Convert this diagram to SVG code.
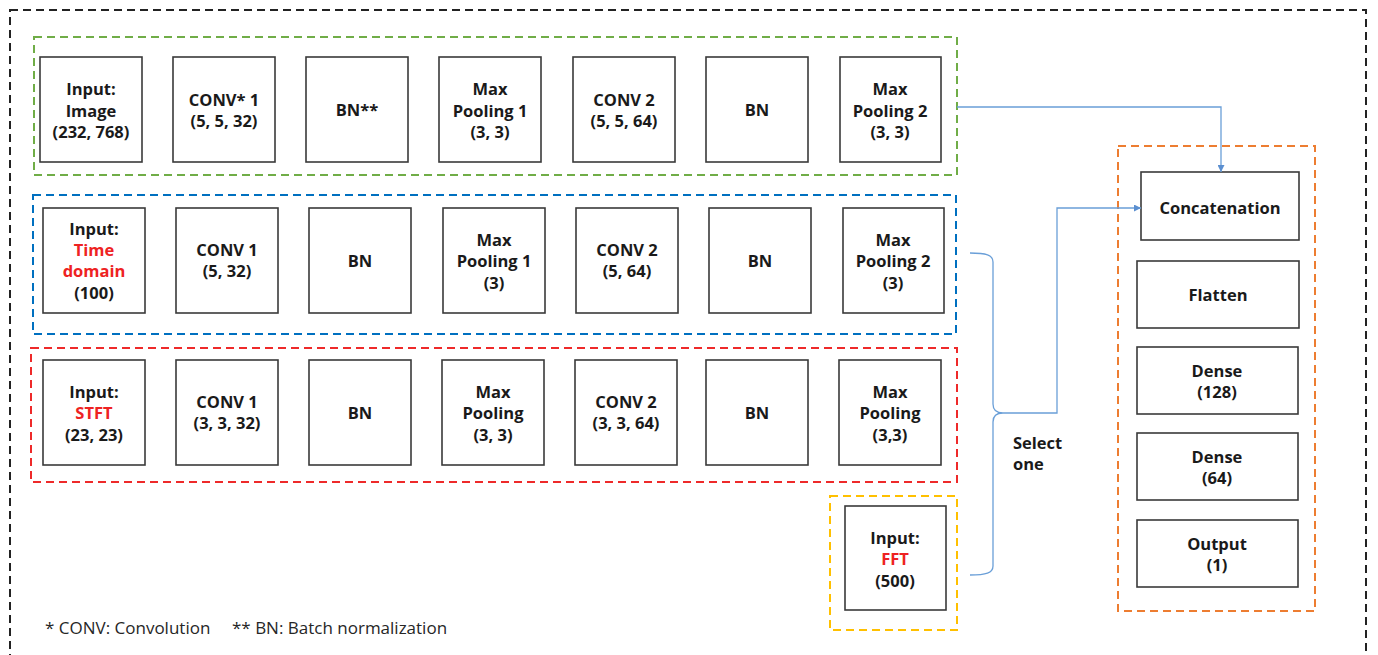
<svg xmlns="http://www.w3.org/2000/svg" width="1378" height="655" viewBox="0 0 1378 655">
  <style>
    .box { fill: #fff; stroke: #3a3a3a; stroke-width: 1.6; }
    .grp { fill: none; stroke-width: 2; stroke-dasharray: 8 5; }
    .t { font-family: "Open Sans", "Noto Sans", sans-serif; font-weight: bold; font-size: 16.5px; fill: #1a1a1a; text-anchor: middle; }
    .red { fill: #ee2222; }
    .note { font-family: "Open Sans", "Noto Sans", sans-serif; font-size: 17px; fill: #262626; }
    .link { fill: none; stroke: #6a9fd8; stroke-width: 1.3; }
  </style>
  <defs>
    <marker id="arr" viewBox="0 0 10 10" refX="10" refY="5" markerWidth="7" markerHeight="7" markerUnits="userSpaceOnUse" orient="auto">
      <path d="M0,0 L10,5 L0,10 z" fill="#5b8fd0"/>
    </marker>
  </defs>
  <rect width="1378" height="655" fill="#fff"/>

  <!-- outer frame and branch groups -->
  <g id="frames">
    <rect x="10" y="10" width="1356" height="660" class="grp" stroke="#222"/>
    <rect x="34" y="37" width="923" height="138" class="grp" stroke="#70ad47"/>
    <rect x="33" y="195" width="923" height="139" class="grp" stroke="#0070c0"/>
    <rect x="31" y="348" width="926" height="134" class="grp" stroke="#ee2a2a"/>
    <rect x="830" y="496" width="127" height="134" class="grp" stroke="#ffc000"/>
    <rect x="1118" y="146" width="197" height="465" class="grp" stroke="#ed7d31"/>
  </g>

  <!-- image branch -->
  <g id="img-input"><rect x="40" y="57" width="102" height="105" class="box"/>
    <text class="t" x="91" y="95">Input:</text><text class="t" x="91" y="117">Image</text><text class="t" x="91" y="138">(232, 768)</text></g>
  <g id="img-conv1"><rect x="173" y="57" width="102" height="105" class="box"/>
    <text class="t" x="224" y="106">CONV* 1</text><text class="t" x="224" y="127">(5, 5, 32)</text></g>
  <g id="img-bn1"><rect x="306" y="57" width="102" height="105" class="box"/>
    <text class="t" x="357" y="116">BN**</text></g>
  <g id="img-pool1"><rect x="439" y="57" width="102" height="105" class="box"/>
    <text class="t" x="490" y="95">Max</text><text class="t" x="490" y="117">Pooling 1</text><text class="t" x="490" y="138">(3, 3)</text></g>
  <g id="img-conv2"><rect x="573" y="57" width="102" height="105" class="box"/>
    <text class="t" x="624" y="106">CONV 2</text><text class="t" x="624" y="127">(5, 5, 64)</text></g>
  <g id="img-bn2"><rect x="706" y="57" width="102" height="105" class="box"/>
    <text class="t" x="757" y="116">BN</text></g>
  <g id="img-pool2"><rect x="840" y="57" width="101" height="105" class="box"/>
    <text class="t" x="890" y="95">Max</text><text class="t" x="890" y="117">Pooling 2</text><text class="t" x="890" y="138">(3, 3)</text></g>

  <!-- time-domain branch -->
  <g id="td-input"><rect x="43" y="208" width="102" height="105" class="box"/>
    <text class="t" x="94" y="235">Input:</text><text class="t red" x="94" y="256">Time</text><text class="t red" x="94" y="277">domain</text><text class="t" x="94" y="299">(100)</text></g>
  <g id="td-conv1"><rect x="176" y="208" width="102" height="105" class="box"/>
    <text class="t" x="227" y="256">CONV 1</text><text class="t" x="227" y="277">(5, 32)</text></g>
  <g id="td-bn1"><rect x="309" y="208" width="102" height="105" class="box"/>
    <text class="t" x="360" y="267">BN</text></g>
  <g id="td-pool1"><rect x="443" y="208" width="102" height="105" class="box"/>
    <text class="t" x="494" y="246">Max</text><text class="t" x="494" y="267">Pooling 1</text><text class="t" x="494" y="289">(3)</text></g>
  <g id="td-conv2"><rect x="576" y="208" width="102" height="105" class="box"/>
    <text class="t" x="627" y="256">CONV 2</text><text class="t" x="627" y="277">(5, 64)</text></g>
  <g id="td-bn2"><rect x="709" y="208" width="102" height="105" class="box"/>
    <text class="t" x="760" y="267">BN</text></g>
  <g id="td-pool2"><rect x="843" y="208" width="101" height="105" class="box"/>
    <text class="t" x="893" y="246">Max</text><text class="t" x="893" y="267">Pooling 2</text><text class="t" x="893" y="289">(3)</text></g>

  <!-- STFT branch -->
  <g id="stft-input"><rect x="43" y="360" width="102" height="105" class="box"/>
    <text class="t" x="94" y="398">Input:</text><text class="t red" x="94" y="419">STFT</text><text class="t" x="94" y="441">(23, 23)</text></g>
  <g id="stft-conv1"><rect x="176" y="360" width="102" height="105" class="box"/>
    <text class="t" x="227" y="408">CONV 1</text><text class="t" x="227" y="429">(3, 3, 32)</text></g>
  <g id="stft-bn1"><rect x="309" y="360" width="102" height="105" class="box"/>
    <text class="t" x="360" y="419">BN</text></g>
  <g id="stft-pool1"><rect x="442" y="360" width="102" height="105" class="box"/>
    <text class="t" x="493" y="398">Max</text><text class="t" x="493" y="419">Pooling</text><text class="t" x="493" y="441">(3, 3)</text></g>
  <g id="stft-conv2"><rect x="575" y="360" width="102" height="105" class="box"/>
    <text class="t" x="626" y="408">CONV 2</text><text class="t" x="626" y="429">(3, 3, 64)</text></g>
  <g id="stft-bn2"><rect x="706" y="360" width="102" height="105" class="box"/>
    <text class="t" x="757" y="419">BN</text></g>
  <g id="stft-pool2"><rect x="839" y="360" width="102" height="105" class="box"/>
    <text class="t" x="890" y="398">Max</text><text class="t" x="890" y="419">Pooling</text><text class="t" x="890" y="441">(3,3)</text></g>

  <!-- FFT input -->
  <g id="fft-input"><rect x="845" y="506" width="101" height="104" class="box"/>
    <text class="t" x="895" y="544">Input:</text><text class="t red" x="895" y="565">FFT</text><text class="t" x="895" y="587">(500)</text></g>

  <!-- head -->
  <g id="concat"><rect x="1141" y="172" width="158" height="68" class="box"/>
    <text class="t" x="1220" y="214">Concatenation</text></g>
  <g id="flatten"><rect x="1137" y="261" width="162" height="67" class="box"/>
    <text class="t" x="1218" y="301">Flatten</text></g>
  <g id="dense128"><rect x="1137" y="347" width="161" height="67" class="box"/>
    <text class="t" x="1217" y="377">Dense</text><text class="t" x="1217" y="398">(128)</text></g>
  <g id="dense64"><rect x="1137" y="433" width="161" height="67" class="box"/>
    <text class="t" x="1217" y="463">Dense</text><text class="t" x="1217" y="484">(64)</text></g>
  <g id="output"><rect x="1137" y="520" width="161" height="67" class="box"/>
    <text class="t" x="1217" y="550">Output</text><text class="t" x="1217" y="571">(1)</text></g>

  <!-- connectors -->
  <g id="connectors">
    <path class="link" d="M957,107 L1221,107 L1221,172" marker-end="url(#arr)"/>
    <path class="link" d="M970,253 C986,253 993,255 993,262 L993,404 C993,410 996,413 1003,413 C996,413 993,416 993,422 L993,566 C993,573 986,575 970,575"/>
    <path class="link" d="M1003,413 L1057,413 L1057,208 L1141,208" marker-end="url(#arr)"/>
  </g>

  <g id="select-label">
    <text class="t" x="1013" y="449" style="text-anchor:start">Select</text>
    <text class="t" x="1013" y="470" style="text-anchor:start">one</text>
  </g>

  <g id="footnote">
    <text class="note" x="45" y="634">* CONV: Convolution</text>
    <text class="note" x="232" y="634">** BN: Batch normalization</text>
  </g>
</svg>
